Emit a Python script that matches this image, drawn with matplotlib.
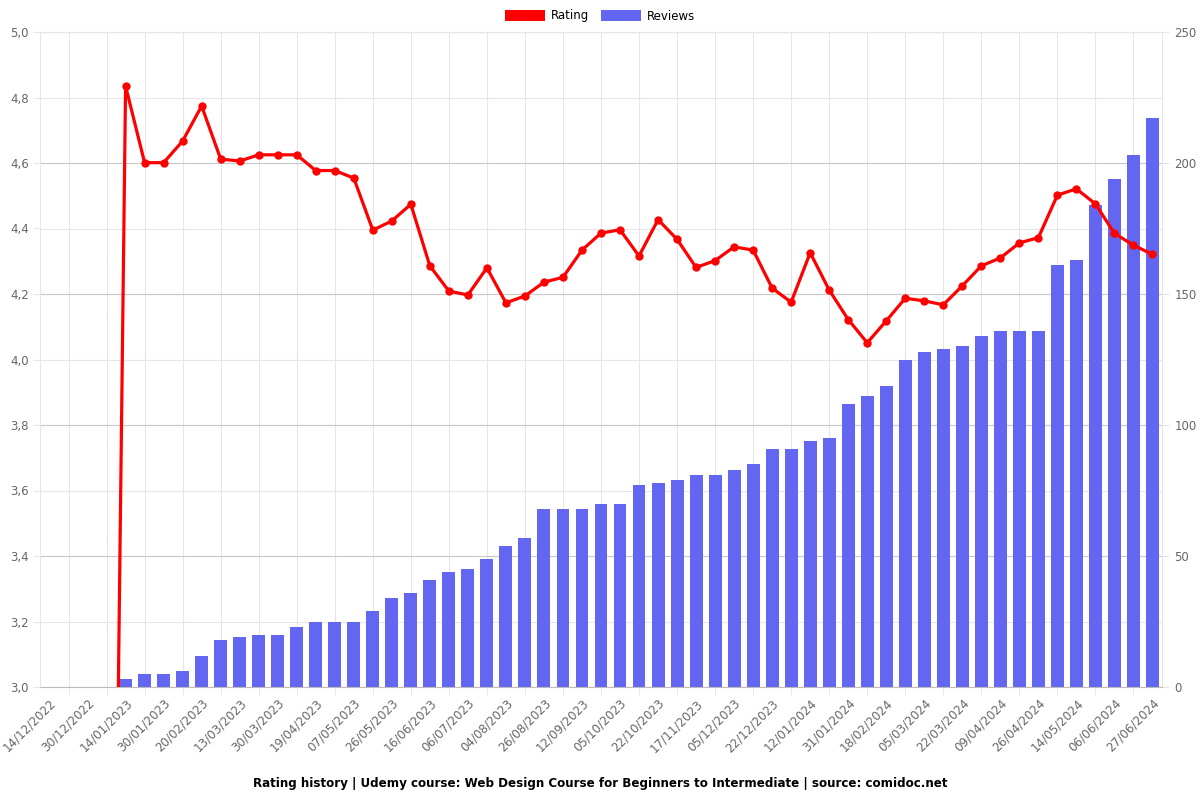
import matplotlib
matplotlib.use('Agg')
import matplotlib.pyplot as plt
from matplotlib.patches import Patch

# tick labels (every second snapshot is labelled)
date_labels = ['14/12/2022', '30/12/2022', '14/01/2023', '30/01/2023', '20/02/2023',
               '13/03/2023', '30/03/2023', '19/04/2023', '07/05/2023', '26/05/2023',
               '16/06/2023', '06/07/2023', '04/08/2023', '26/08/2023', '12/09/2023',
               '05/10/2023', '22/10/2023', '17/11/2023', '05/12/2023', '22/12/2023',
               '12/01/2024', '31/01/2024', '18/02/2024', '05/03/2024', '22/03/2024',
               '09/04/2024', '26/04/2024', '14/05/2024', '06/06/2024', '27/06/2024']

rating = [0, 0, 0, 0,
          4.835, 4.601, 4.601, 4.667, 4.774, 4.612, 4.606, 4.625, 4.625, 4.625,
          4.577, 4.577, 4.554, 4.395, 4.423, 4.474, 4.286, 4.209, 4.197, 4.280,
          4.173, 4.194, 4.236, 4.251, 4.334, 4.386, 4.396, 4.316, 4.427, 4.367,
          4.281, 4.302, 4.344, 4.334, 4.218, 4.175, 4.326, 4.212, 4.122, 4.051,
          4.118, 4.187, 4.179, 4.167, 4.225, 4.286, 4.310, 4.356, 4.372, 4.502,
          4.521, 4.475, 4.385, 4.349, 4.321]

reviews = [0, 0, 0, 0,
           3, 5, 5, 6, 12, 18, 19, 20, 20, 23, 25, 25, 25, 29, 34, 36, 41, 44,
           45, 49, 54, 57, 68, 68, 68, 70, 70, 77, 78, 79, 81, 81, 83, 85, 91,
           91, 94, 95, 108, 111, 115, 125, 128, 129, 130, 134, 136, 136, 136,
           161, 163, 184, 194, 203, 217]

n = len(rating)
x = list(range(n))
tick_col = '#666666'
grid_light = '#e6e6e6'
grid_dark = '#c8c8c8'

fig = plt.figure(figsize=(12, 8), dpi=100)
plt.subplots_adjust(left=40 / 1200, right=1162 / 1200, top=1 - 32 / 800, bottom=1 - 687 / 800)

# bars on the base axes (right scale), line on twin (left scale) so it sits on top
ax = fig.add_subplot(111)
ax2 = ax.twinx()

ax.bar(x, reviews, width=0.68, color='#6366f1', linewidth=0, zorder=2)
ax.set_ylim(0, 250)
ax.set_xlim(-0.5, n - 0.5)
ax.yaxis.tick_right()
ax.set_yticks(range(0, 251, 50))
ax.set_yticks(range(0, 251, 25), minor=True)
ax.tick_params(axis='y', which='major', colors=grid_light, labelcolor=tick_col,
               labelsize=8.5, length=5, pad=4)
ax.tick_params(axis='y', which='minor', length=0)
ax.grid(axis='y', which='major', color=grid_dark, linewidth=0.8, zorder=0)
ax.grid(axis='y', which='minor', color=grid_light, linewidth=0.8, zorder=0)

ax.set_xticks(x[0::2])
ax.set_xticklabels(date_labels, rotation=45, ha='right', va='top',
                   rotation_mode='anchor', color=tick_col, fontsize=8.6)
ax.set_xticks(x[1::2], minor=True)
ax.tick_params(axis='x', which='major', length=0, pad=7)
ax.tick_params(axis='x', which='minor', length=6, color=grid_light)
ax.grid(axis='x', which='minor', color=grid_light, linewidth=0.8, zorder=0)

for s in ['left', 'right', 'top']:
    ax.spines[s].set_color(grid_light)
ax.spines['bottom'].set_color('#bdbdbd')
ax.set_axisbelow(True)

ax2.plot(x, rating, color='#ff0000', linewidth=2.3, marker='o', markersize=5, zorder=3)
ax2.set_ylim(3.0, 5.0)
ax2.yaxis.tick_left()
ax2.set_yticks([3.0 + 0.2 * i for i in range(11)])
ax2.set_yticklabels([('%.1f' % (3.0 + 0.2 * i)).replace('.', ',') for i in range(11)])
ax2.tick_params(axis='y', colors=grid_light, labelcolor=tick_col, labelsize=8.5, length=5, pad=3)
for s in ax2.spines.values():
    s.set_visible(False)

handles = [Patch(facecolor='#ff0000', label='Rating'),
           Patch(facecolor='#6366f1', label='Reviews')]
fig.legend(handles=handles, loc='center', bbox_to_anchor=(0.5, 1 - 16 / 800), ncol=2,
           frameon=False, fontsize=8.5, handlelength=3.4, handleheight=1.0,
           handletextpad=0.5, columnspacing=1.0)

fig.text(0.5, 1 - 783 / 800,
         'Rating history | Udemy course: Web Design Course for Beginners to Intermediate | source: comidoc.net',
         ha='center', va='center', fontsize=8.6, fontweight='bold')

plt.savefig('out.png', dpi=100)
